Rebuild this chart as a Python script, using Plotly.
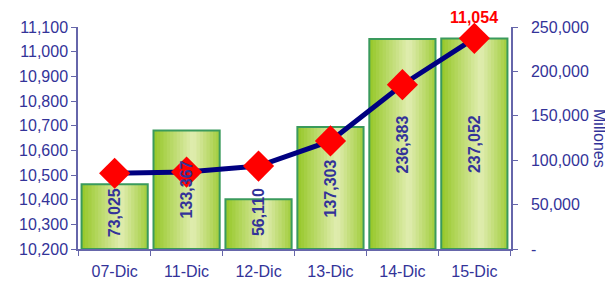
import plotly.graph_objects as go

categories = ["07-Dic", "11-Dic", "12-Dic", "13-Dic", "14-Dic", "15-Dic"]
bar_values = [73025, 133367, 56110, 137303, 236383, 237052]
line_values = [10507, 10512, 10536, 10638, 10866, 11054]
left_ticks = [10200, 10300, 10400, 10500, 10600, 10700, 10800, 10900, 11000, 11100]
right_ticks = [0, 50000, 100000, 150000, 200000, 250000]
right_ticklabels = ["-", "50,000", "100,000", "150,000", "200,000", "250,000"]

NAVY = "#333399"
AXIS = "#6666AA"
fig = go.Figure()

# gradient bars built from overlapping stripes (bars on right axis "y")
bar_w = 0.92
n = 20
dark = (150, 200, 40)
light = (226, 238, 178)
for i in range(n):
    t = (i + 0.5) / n
    if t < 0.6:
        l = 1 - (0.6 - t) / 0.6
    else:
        l = 1 - (t - 0.6) / 0.4 * 0.85
    col = "rgb(%d,%d,%d)" % tuple(int(d + (li - d) * l) for d, li in zip(dark, light))
    off = -bar_w / 2 + i * bar_w / n
    w = min(2 * bar_w / n, bar_w / 2 - off)
    fig.add_trace(go.Bar(
        x=categories, y=bar_values, yaxis="y",
        width=w, offset=off,
        marker=dict(color=col, line=dict(width=0)),
        hoverinfo="skip", showlegend=False))

# outline
fig.add_trace(go.Bar(
    x=categories, y=bar_values, yaxis="y",
    width=bar_w, offset=-bar_w / 2,
    marker=dict(color="rgba(0,0,0,0)", line=dict(color="#3A9A5C", width=2)),
    showlegend=False))

# line on left axis "y2" (drawn above bars)
fig.add_trace(go.Scatter(
    x=categories, y=line_values, yaxis="y2", mode="lines+markers",
    line=dict(color="#000080", width=5),
    marker=dict(symbol="diamond", size=24, color="#FF0000"),
    cliponaxis=False, showlegend=False))

annotations = []
for c, v in zip(categories, bar_values):
    annotations.append(dict(
        x=c, y=max(v / 2, 41000), xref="x", yref="y",
        text="<b>%s</b>" % format(v, ","), textangle=-90, showarrow=False,
        font=dict(family="Arial", size=16, color=NAVY)))

annotations.append(dict(
    x=categories[-1], y=line_values[-1], xref="x", yref="y2",
    text="<b>%s</b>" % format(line_values[-1], ","), showarrow=False,
    yshift=21, font=dict(family="Arial", size=16, color="#FF0000")))

annotations.append(dict(
    x=1, xref="paper", y=0.5, yref="paper", xshift=89,
    xanchor="center", yanchor="middle",
    text="Millones", textangle=90, showarrow=False,
    font=dict(family="Arial", size=16, color=NAVY)))

fig.update_layout(
    width=605, height=273,
    margin=dict(l=70, r=102, t=19, b=32, autoexpand=False),
    paper_bgcolor="white", plot_bgcolor="white",
    barmode="overlay",
    font=dict(family="Arial", color=NAVY, size=16),
    xaxis=dict(type="category", showline=True, linecolor=AXIS, linewidth=1.5,
               ticks="outside", tickson="boundaries", ticklen=5, tickcolor=AXIS,
               ticklabelstandoff=7,
               showgrid=False, tickfont=dict(size=16, color=NAVY)),
    yaxis=dict(range=[0, 250000], side="right",
               tickvals=right_ticks, ticktext=right_ticklabels,
               showline=True, linecolor=AXIS, linewidth=1.5, ticks="outside",
               ticklen=5, tickcolor=AXIS, showgrid=False, zeroline=False,
               ticklabelstandoff=10,
               tickfont=dict(size=16, color=NAVY)),
    yaxis2=dict(range=[10200, 11100], overlaying="y", side="left",
                tickvals=left_ticks, tickformat=",",
                showline=True, linecolor=AXIS, linewidth=1.5, ticks="outside",
                ticklen=5, tickcolor=AXIS, showgrid=False, zeroline=False,
                tickfont=dict(size=16, color=NAVY)),
    annotations=annotations,
)

fig.write_html("out.html")
